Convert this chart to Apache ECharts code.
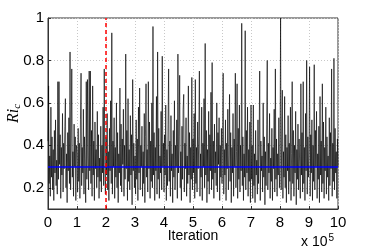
<!DOCTYPE html>
<html>
<head>
<meta charset="utf-8">
<script src="https://cdn.jsdelivr.net/npm/echarts@6/dist/echarts.min.js"></script>
<style>html,body{margin:0;padding:0;background:#fff}#c{width:374px;height:249px}</style>
</head>
<body>
<div id="c"></div>
<script>
// x in units of 10^5 iterations
const xTicks = [0,1,2,3,4,5,6,7,8,9,10];
const yTicks = [0.2,0.4,0.6,0.8,1];
const iterStep = 0.02; // spacing of recorded samples (x 10^5)
const burnIn = [2];
const meanRi = [0.3];
// Ri_c trace values (read/estimated from the picture)
const riTrace = [
0.42,0.68,0.22,0.35,0.16,0.58,0.25,0.44,0.19,0.38,0.14,0.47,0.27,0.52,0.21,0.33,0.17,0.70,0.24,0.70,0.31,0.45,0.15,0.39,0.26,0.55,0.18,0.41,0.29,0.49,0.62,0.20,0.36,0.13,0.46,0.28,0.53,0.22,0.84,0.19,0.43,0.76,0.25,0.37,0.16,0.50,0.30,0.44,0.14,0.40,
0.36,0.18,0.48,0.23,0.41,0.15,0.52,0.74,0.21,0.39,0.27,0.57,0.17,0.44,0.30,0.13,0.70,0.24,0.71,0.35,0.19,0.75,0.28,0.75,0.22,0.47,0.16,0.68,0.26,0.42,0.14,0.51,0.29,0.38,0.20,0.56,0.25,0.45,0.15,0.34,0.23,0.49,0.18,0.40,0.27,0.58,0.21,0.76,0.31,0.17,
0.44,0.26,0.55,0.19,0.37,0.14,0.48,0.28,0.61,0.22,0.93,0.17,0.42,0.30,0.53,0.15,0.39,0.25,0.60,0.20,0.46,0.13,0.36,0.27,0.67,0.21,0.50,0.18,0.43,0.31,0.57,0.16,0.40,0.24,0.83,0.29,0.47,0.14,0.62,0.23,0.38,0.19,0.54,0.26,0.45,0.12,0.71,0.28,0.41,0.20,
0.35,0.17,0.52,0.24,0.43,0.14,0.58,0.27,0.67,0.19,0.40,0.30,0.49,0.16,0.37,0.22,0.55,0.13,0.44,0.69,0.25,0.38,0.18,0.70,0.29,0.51,0.15,0.42,0.23,0.60,0.20,0.96,0.26,0.46,0.14,0.39,0.28,0.63,0.17,0.84,0.24,0.48,0.15,0.35,0.27,0.56,0.19,0.82,0.30,0.41,
0.18,0.45,0.26,0.59,0.14,0.38,0.21,0.50,0.76,0.23,0.42,0.16,0.54,0.28,0.36,0.13,0.47,0.25,0.61,0.19,0.40,0.30,0.52,0.15,0.83,0.27,0.44,0.73,0.20,0.37,0.14,0.49,0.24,0.57,0.64,0.18,0.41,0.29,0.53,0.16,0.35,0.22,0.68,0.26,0.46,0.13,0.39,0.24,0.72,0.19,
0.43,0.27,0.55,0.15,0.71,0.22,0.39,0.18,0.51,0.29,0.44,0.75,0.16,0.36,0.25,0.58,0.14,0.41,0.30,0.62,0.20,0.88,0.26,0.47,0.13,0.38,0.23,0.56,0.17,0.45,0.28,0.65,0.19,0.79,0.24,0.42,0.15,0.50,0.27,0.37,0.21,0.60,0.18,0.46,0.31,0.53,0.14,0.40,0.25,0.48,
0.22,0.45,0.74,0.17,0.38,0.26,0.52,0.14,0.41,0.29,0.57,0.19,0.35,0.64,0.23,0.46,0.13,0.39,0.27,0.55,0.16,0.43,0.30,0.74,0.20,0.37,0.69,0.15,0.48,0.24,0.59,0.18,0.40,0.28,0.975,0.21,0.44,0.14,0.36,0.25,0.94,0.19,0.47,0.27,0.58,0.16,0.38,0.23,0.51,0.13,
0.59,0.24,0.40,0.15,0.59,0.21,0.36,0.13,0.47,0.26,0.33,0.17,0.52,0.22,0.39,0.75,0.14,0.42,0.28,0.35,0.18,0.60,0.25,0.44,0.12,0.37,0.21,0.50,0.80,0.19,0.41,0.27,0.55,0.15,0.34,0.23,0.48,0.14,0.39,0.29,0.57,0.18,0.76,0.24,0.43,0.16,0.36,0.26,0.53,0.20,
0.31,1.0,0.19,0.42,0.66,0.15,0.37,0.25,0.63,0.20,0.45,0.13,0.39,0.28,0.54,0.17,0.41,0.23,0.58,0.14,0.36,0.70,0.22,0.47,0.16,0.40,0.27,0.56,0.12,0.38,0.24,0.50,0.19,0.43,0.30,0.15,0.69,0.26,0.46,0.18,0.70,0.22,0.39,0.14,0.55,0.28,0.80,0.17,0.44,0.25,
0.38,0.77,0.16,0.45,0.27,0.52,0.14,0.40,0.23,0.78,0.19,0.47,0.30,0.56,0.15,0.36,0.24,0.49,0.13,0.63,0.26,0.42,0.18,0.69,0.22,0.51,0.15,0.39,0.28,0.58,0.17,0.44,0.25,0.35,0.14,0.53,0.21,0.46,0.29,0.76,0.16,0.41,0.23,0.81,0.19,0.48,0.27,0.37,0.15,0.43,0.30
];

const chart = echarts.init(document.getElementById('c'), null, {renderer: 'canvas'});
const tickFont = {fontFamily: 'Liberation Sans, Arial, sans-serif', fontSize: 15, color: '#000'};
chart.setOption({
  animation: false,
  backgroundColor: '#fff',
  grid: {left: 48, right: 36, top: 18, bottom: 40, outerBoundsMode: 'none', containLabel: false, show: true, borderColor: '#333', borderWidth: 1, backgroundColor: 'transparent'},
  xAxis: {
    type: 'value', min: 0, max: 10, interval: 1,
    name: 'Iteration', nameLocation: 'middle', nameGap: 20, nameMoveOverlap: false,
    nameTextStyle: {fontFamily: 'Liberation Sans, Arial, sans-serif', fontSize: 14, color: '#000'},
    axisLine: {show: true, lineStyle: {color: '#333', width: 1}},
    axisTick: {show: true, inside: true, length: 3, lineStyle: {color: '#333'}},
    axisLabel: Object.assign({margin: 6, formatter: v => String(v)}, tickFont),
    splitLine: {show: true, lineStyle: {color: '#c8c8c8', type: [1, 2], width: 1}}
  },
  yAxis: {
    type: 'value', min: 0.1, max: 1,
    name: '{i|Ri}{s|c}', nameLocation: 'middle', nameGap: 25, nameRotate: 90, nameMoveOverlap: false,
    nameTextStyle: {rich: {
      i: {fontFamily: 'Liberation Serif, serif', fontStyle: 'italic', fontSize: 16, color: '#000'},
      s: {fontFamily: 'Liberation Serif, serif', fontStyle: 'italic', fontSize: 11, color: '#000', verticalAlign: 'bottom', padding: [8, 0, 0, 0]}
    }},
    axisLine: {show: true, lineStyle: {color: '#333', width: 1}},
    axisTick: {show: true, inside: true, length: 3, customValues: yTicks, lineStyle: {color: '#333'}},
    axisLabel: Object.assign({margin: 4, customValues: yTicks, formatter: v => String(+v.toFixed(1))}, tickFont),
    splitLine: {show: true, lineStyle: {color: '#c8c8c8', type: [1, 2], width: 1}}
  },
  graphic: [{
    type: 'text', left: 301, top: 233,
    style: {
      text: '{a|x 10}{b|5}',
      rich: {
        a: {fontFamily: 'Liberation Sans, Arial, sans-serif', fontSize: 14, color: '#000'},
        b: {fontFamily: 'Liberation Sans, Arial, sans-serif', fontSize: 10, color: '#000', verticalAlign: 'top', padding: [0, 0, 8, 1]}
      }
    }
  }],
  series: [{
    type: 'line',
    data: riTrace.map((v, i) => [i * iterStep, v]),
    showSymbol: false, symbol: 'none',
    lineStyle: {color: 'rgba(0,0,0,0.72)', width: 0.9},
    z: 2,
    markLine: {
      silent: true, symbol: 'none', label: {show: false},
      data: [
        {yAxis: meanRi[0], lineStyle: {color: '#0000ff', width: 1.5, type: 'solid'}},
        {xAxis: burnIn[0], lineStyle: {color: '#ff0000', width: 1.5, type: [4, 3]}}
      ]
    }
  }]
});
</script>
</body>
</html>
